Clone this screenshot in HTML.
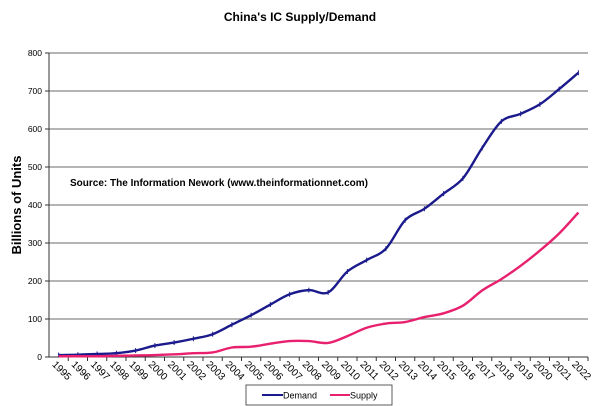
<!DOCTYPE html>
<html><head><meta charset="utf-8"><style>
body{margin:0;background:#fff;}
svg{display:block;font-family:"Liberation Sans",Arial,sans-serif;}
</style></head><body>
<svg id="chart" width="600" height="406" viewBox="0 0 600 406">
<text x="300" y="21" text-anchor="middle" font-size="12" font-weight="bold">China's IC Supply/Demand</text>
<text transform="translate(21,205) rotate(-90)" text-anchor="middle" font-size="13" font-weight="bold">Billions of Units</text>
<text x="70" y="186" font-size="10" font-weight="bold">Source: The Information Nework (www.theinformationnet.com)</text>
<g id="grid"></g><g id="axes"></g><g id="series"></g>
<g>
<rect x="246" y="385" width="146" height="20" fill="#fff" stroke="#333" stroke-width="0.8"/>
<g><line x1="262" y1="395" x2="283" y2="395" stroke="#1a1a8c" stroke-width="2"/><text x="283" y="398.5" font-size="9">Demand</text></g>
<g><line x1="330" y1="395" x2="350" y2="395" stroke="#e8206e" stroke-width="2"/><text x="350" y="398.5" font-size="9">Supply</text></g>
</g>
</svg>
<script>
const categories=["1995","1996","1997","1998","1999","2000","2001","2002","2003","2004","2005","2006","2007","2008","2009","2010","2011","2012","2013","2014","2015","2016","2017","2018","2019","2020","2021","2022"];
const demand=[5,6,8,10,17,30,38,48,60,85,110,138,165,176,170,225,255,285,360,390,430,470,550,620,640,665,705,748];
const supply=[2,2,2,3,4,5,7,10,12,25,27,35,42,42,37,55,77,88,92,105,115,135,175,205,240,280,325,380];
const yTicks=[0,100,200,300,400,500,600,700,800];
const NS="http://www.w3.org/2000/svg";
const L=49,R=588,T=53,B=357,yMax=800;
const bw=(R-L)/categories.length;
const xc=i=>L+bw*(i+0.5);
const y=v=>B-(v/yMax)*(B-T);
function mk(t,a,p){const e=document.createElementNS(NS,t);for(const k in a)e.setAttribute(k,a[k]);p.appendChild(e);return e;}
const grid=document.getElementById('grid'),axes=document.getElementById('axes'),ser=document.getElementById('series');
yTicks.forEach(v=>{
 if(v>0){const g=mk('line',{x1:L,x2:R,y1:y(v),y2:y(v),stroke:'#888','stroke-width':1.2},grid);
 
 }
 const t=mk('text',{x:L-7,y:y(v)+3,'text-anchor':'end','font-size':8.5},axes);t.textContent=v;
 
 
 mk('line',{x1:L-4,x2:L,y1:y(v),y2:y(v),stroke:'#333'},axes);
});
const ya=mk('line',{x1:L,x2:L,y1:T,y2:B,stroke:'#333','stroke-width':1},axes);


const xa=mk('line',{x1:L,x2:R,y1:B,y2:B,stroke:'#333','stroke-width':1},axes);


categories.forEach((c,i)=>{
 mk('line',{x1:L+bw*(i+1),x2:L+bw*(i+1),y1:B,y2:B+4,stroke:'#333'},axes);
 const t=mk('text',{transform:`translate(${xc(i)-7},${B+8}) rotate(45)`,'font-size':10},axes);t.textContent=c;
 
 
});
function path(vals){
 const p=vals.map((v,i)=>[xc(i),y(v)]);let d=`M${p[0][0]},${p[0][1]}`;
 for(let i=0;i<p.length-1;i++){const p0=p[Math.max(0,i-1)],p1=p[i],p2=p[i+1],p3=p[Math.min(p.length-1,i+2)];
 d+=` C${p1[0]+(p2[0]-p0[0])/6},${p1[1]+(p2[1]-p0[1])/6} ${p2[0]-(p3[0]-p1[0])/6},${p2[1]-(p3[1]-p1[1])/6} ${p2[0]},${p2[1]}`;}
 return d;}
const dl=mk('path',{d:path(demand),fill:'none',stroke:'#1a1a8c','stroke-width':2.4},ser);


demand.forEach((v,i)=>{const m=mk('line',{x1:xc(i),x2:xc(i),y1:y(v)-2.5,y2:y(v)+2.5,stroke:'#1a1a8c','stroke-width':1},ser);
 
 });
const sl=mk('path',{d:path(supply),fill:'none',stroke:'#e8206e','stroke-width':2.4},ser);


</script>
</body></html>
